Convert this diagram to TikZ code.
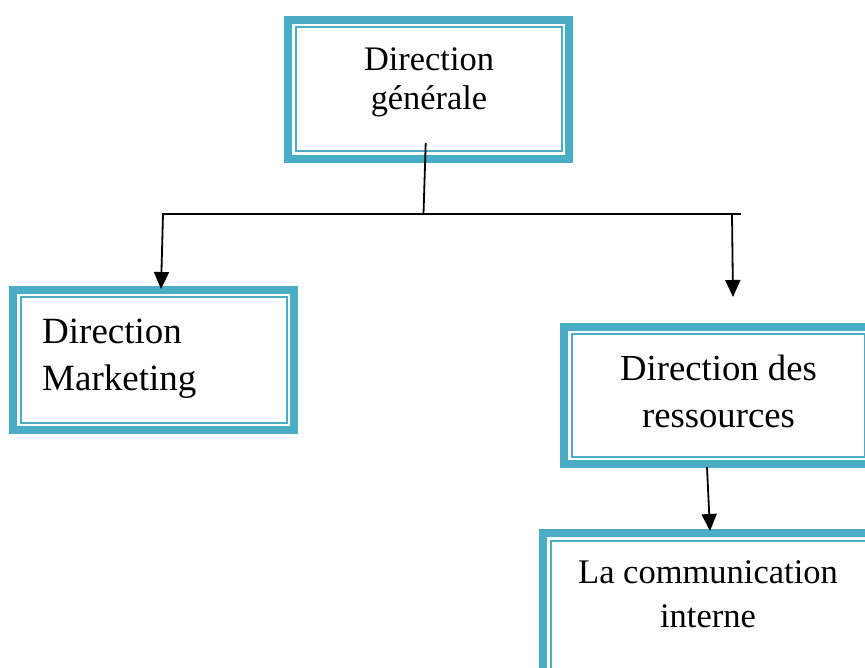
\documentclass[tikz,border=0pt]{standalone}
\usepackage{fontspec}
\setmainfont{Liberation Serif}
\usetikzlibrary{arrows.meta}
\definecolor{boxteal}{RGB}{75,172,198}
\tikzset{
  framebox/.style={rectangle, draw=boxteal, line width=8pt, fill=white, inner sep=0pt,
    path picture={\draw[boxteal, line width=2pt]
      ([shift={(7.5pt,-7.5pt)}]path picture bounding box.north west) rectangle
      ([shift={(-7.5pt,7.5pt)}]path picture bounding box.south east);}},
  boxtext/.style={inner sep=0pt, align=#1},
  boxtext/.default=center,
  link/.style={line width=1.8pt, black},
  arrowlink/.style={link, -{Triangle[length=17pt,width=15pt]}}
}
\begin{document}
\begin{tikzpicture}[x=1pt,y=-1pt]
\useasboundingbox (0,0) rectangle (865,668);
\clip (0,0) rectangle (865,668);
% boxes
\node[framebox, minimum width=281pt, minimum height=139pt] (gen) at (428.5,89.5) {};
\node[framebox, minimum width=281pt, minimum height=140pt] (mkt) at (153.5,360) {};
\node[framebox, minimum width=308pt, minimum height=137pt] (res) at (718,395.5) {};
\node[framebox, minimum width=330pt, minimum height=143pt] (com) at (708,604.5) {};
% labels (anchored at the baseline of the last line)
\node[boxtext, anchor=base, font=\fontsize{34.4}{39}\selectfont] (gentext) at (429,110) {Direction\\générale};
\node[boxtext=left, anchor=base west, font=\fontsize{37}{47}\selectfont] (mkttext) at (42,390) {Direction\\Marketing};
\node[boxtext, anchor=base, font=\fontsize{36.7}{47}\selectfont] (restext) at (718.5,427) {Direction des\\ressources};
\node[boxtext, anchor=base, font=\fontsize{34.5}{44}\selectfont] (comtext) at (708,627) {La communication\\interne};
% connectors
\coordinate (j) at (423.5,214);
\coordinate (bl) at (162,214);
\coordinate (br) at (741,214);
\coordinate (lt) at (163,214);
\coordinate (rt) at (732,214);
\coordinate (rtip) at (733,297);
\draw[link] ([xshift=-2.8pt,yshift=20pt]gen.south) -- (j);
\draw[link] (bl) -- (br);
\draw[arrowlink] (lt) -- ([xshift=7.5pt,yshift=-3pt]mkt.north);
\draw[arrowlink] (rt) -- (rtip);
\draw[arrowlink] ([xshift=-11pt,yshift=1pt]res.south) -- ([xshift=2pt,yshift=-2pt]com.north);
\end{tikzpicture}
\end{document}
